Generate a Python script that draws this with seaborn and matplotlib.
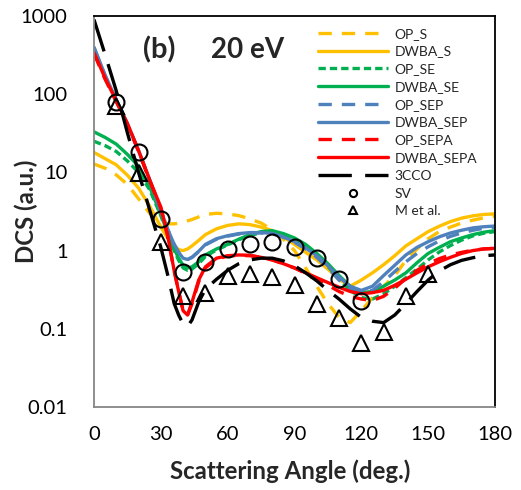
import numpy as np
import pandas as pd
import matplotlib
matplotlib.use("Agg")
import matplotlib.pyplot as plt
import seaborn as sns
from matplotlib.ticker import MultipleLocator, FuncFormatter, LogLocator, NullFormatter

# angle grid (deg) shared by all theory curves
angle = [0, 5, 10, 15, 20, 25, 30, 33, 36, 38, 40, 42, 44, 47, 50, 55, 60, 65, 70, 75, 80,
         85, 90, 95, 100, 105, 110, 115, 120, 125, 130, 135, 140, 145, 150, 155, 160, 165,
         170, 175, 180]

op_s = [12.8, 11.3, 9.3, 7.0, 4.6, 3.0, 2.35, 2.2, 2.2, 2.23, 2.3, 2.4, 2.5, 2.7, 2.9, 3.0,
        2.95, 2.8, 2.55, 2.25, 1.85, 1.4, 1.0, 0.6, 0.35, 0.21, 0.14, 0.12, 0.17, 0.25, 0.35,
        0.48, 0.75, 1.05, 1.42, 1.75, 2.0, 2.25, 2.45, 2.62, 2.75]
dwba_s = [18, 15, 12.5, 9.2, 6.3, 3.7, 2.0, 1.45, 1.15, 1.03, 1.0, 1.05, 1.15, 1.35, 1.6, 1.9,
          2.1, 2.2, 2.15, 2.0, 1.8, 1.5, 1.2, 0.95, 0.76, 0.58, 0.43, 0.35, 0.42, 0.52, 0.66,
          0.86, 1.15, 1.42, 1.75, 2.05, 2.35, 2.6, 2.78, 2.9, 2.95]
op_se = [25, 22, 18.5, 14, 10, 6, 2.8, 1.65, 1.0, 0.75, 0.6, 0.56, 0.58, 0.68, 0.84, 1.02,
         1.18, 1.38, 1.55, 1.7, 1.75, 1.62, 1.42, 1.16, 0.88, 0.63, 0.43, 0.31, 0.25, 0.24,
         0.28, 0.35, 0.45, 0.58, 0.76, 0.96, 1.16, 1.36, 1.54, 1.67, 1.75]
dwba_se = [33, 28, 23, 17, 12, 6.5, 2.9, 1.7, 1.05, 0.8, 0.65, 0.6, 0.62, 0.72, 0.88, 1.05,
           1.2, 1.4, 1.6, 1.75, 1.8, 1.65, 1.45, 1.2, 0.92, 0.68, 0.48, 0.35, 0.29, 0.3, 0.35,
           0.42, 0.52, 0.7, 0.92, 1.1, 1.3, 1.45, 1.6, 1.72, 1.8]
op_sep = [390, 172, 84, 42, 19, 8, 3.2, 1.9, 1.2, 0.95, 0.8, 0.77, 0.82, 0.97, 1.18, 1.4,
          1.53, 1.63, 1.68, 1.68, 1.64, 1.48, 1.28, 1.05, 0.82, 0.6, 0.42, 0.32, 0.29, 0.31,
          0.4, 0.54, 0.72, 0.92, 1.12, 1.33, 1.52, 1.68, 1.82, 1.93, 2.0]
dwba_sep = [400, 175, 85, 42, 19, 8, 3.2, 1.9, 1.2, 0.95, 0.8, 0.77, 0.82, 0.98, 1.2, 1.42,
            1.55, 1.65, 1.7, 1.7, 1.66, 1.5, 1.3, 1.08, 0.86, 0.64, 0.46, 0.35, 0.31, 0.35,
            0.48, 0.65, 0.88, 1.1, 1.3, 1.5, 1.68, 1.82, 1.95, 2.02, 2.06]
op_sepa = [330, 155, 80, 41, 18.5, 7.8, 3.5, 1.55, 0.55, 0.3, 0.17, 0.15, 0.21, 0.4, 0.6,
           0.78, 0.85, 0.87, 0.86, 0.82, 0.76, 0.68, 0.6, 0.51, 0.43, 0.36, 0.3, 0.26, 0.24,
           0.23, 0.26, 0.33, 0.44, 0.56, 0.68, 0.79, 0.88, 0.95, 1.01, 1.05, 1.07]
dwba_sepa = [340, 160, 82, 42, 19, 8, 3.6, 1.6, 0.55, 0.3, 0.17, 0.15, 0.22, 0.42, 0.62, 0.8,
             0.86, 0.88, 0.87, 0.82, 0.76, 0.68, 0.6, 0.52, 0.45, 0.39, 0.34, 0.3, 0.28, 0.29,
             0.31, 0.36, 0.43, 0.52, 0.62, 0.72, 0.82, 0.92, 1.0, 1.05, 1.07]
cco3 = [900, 320, 110, 32, 10, 3.3, 1.1, 0.5, 0.21, 0.15, 0.115, 0.107, 0.13, 0.22, 0.32,
        0.43, 0.56, 0.68, 0.76, 0.8, 0.8, 0.74, 0.64, 0.52, 0.41, 0.31, 0.24, 0.18, 0.14,
        0.125, 0.12, 0.15, 0.21, 0.3, 0.42, 0.55, 0.66, 0.75, 0.81, 0.86, 0.88]

# experiments
sv_angle = [10, 20, 30, 40, 50, 60, 70, 80, 90, 100, 110, 120]
sv_dcs = [80, 18, 2.5, 0.54, 0.72, 1.05, 1.21, 1.3, 1.1, 0.8, 0.43, 0.227]
m_angle = [10, 20, 30, 40, 50, 60, 70, 80, 90, 100, 110, 120, 130, 140, 150]
m_dcs = [70, 9.7, 1.3, 0.26, 0.29, 0.47, 0.5, 0.46, 0.36, 0.21, 0.137, 0.066, 0.092, 0.26, 0.5]

yellow = "#FFC000"
green = "#00B050"
blue = "#4F81BD"
red = "#FF0000"

series = [
    ("OP_S", op_s, yellow, (4, 3)),
    ("DWBA_S", dwba_s, yellow, None),
    ("OP_SE", op_se, green, (2.2, 1.2)),
    ("DWBA_SE", dwba_se, green, None),
    ("OP_SEP", op_sep, blue, (4, 3)),
    ("DWBA_SEP", dwba_sep, blue, None),
    ("OP_SEPA", op_sepa, red, (4, 3)),
    ("DWBA_SEPA", dwba_sepa, red, None),
    ("3CCO", cco3, "black", (10, 4)),
]

sns.set_style("white")
plt.rcParams["font.family"] = ["Lato", "DejaVu Sans"]

fig = plt.figure(figsize=(5.21, 4.90), dpi=100)
ax = fig.add_axes([94 / 521, 1 - 407 / 490, 401 / 521, 391 / 490])

for name, vals, col, dash in series:
    ls = "-" if dash is None else (0, dash)
    sns.lineplot(x=angle, y=vals, ax=ax, color=col, linewidth=2.4, linestyle=ls,
                 label=name, estimator=None, sort=False)

sns.lineplot(x=sv_angle, y=sv_dcs, ax=ax, linestyle="", marker="o", ms=11.5, mfc="none",
             mec="black", mew=1.5, label="SV", estimator=None, sort=False)
sns.lineplot(x=m_angle, y=m_dcs, ax=ax, linestyle="", marker="^", ms=12, mfc="none",
             mec="black", mew=1.5, label="M et al.", estimator=None, sort=False)

ax.set_yscale("log")
ax.set_ylim(0.01, 1000)
ax.set_xlim(0, 180)
ax.xaxis.set_major_locator(MultipleLocator(30))
ax.xaxis.set_minor_locator(MultipleLocator(10))
ax.yaxis.set_major_locator(LogLocator(base=10))
ax.yaxis.set_minor_locator(LogLocator(base=10, subs=np.arange(2, 10)))
ax.yaxis.set_minor_formatter(NullFormatter())
ax.yaxis.set_major_formatter(FuncFormatter(lambda v, p: f"{v:g}"))

gray = "#868686"
for s in ["left", "bottom"]:
    ax.spines[s].set_color(gray)
    ax.spines[s].set_linewidth(1.3)
for s in ["top", "right"]:
    ax.spines[s].set_color("black")
    ax.spines[s].set_linewidth(1.3)
ax.tick_params(axis="both", which="both", direction="out", color=gray, width=1.1,
               labelsize=14.5, labelcolor="black")
ax.tick_params(axis="x", which="both", length=5, pad=9)
ax.tick_params(axis="y", which="major", length=6, pad=13)
ax.tick_params(axis="y", which="minor", length=3.5)

ax.set_xlabel("Scattering Angle (deg.)", fontsize=17.3, fontweight="bold")
ax.set_ylabel("DCS (a.u.)", fontsize=17.3, fontweight="bold")
ax.xaxis.set_label_coords(0.49, -0.135)
ax.yaxis.set_label_coords(-0.14, 0.5)

ax.text(0.122, 0.913, "(b)", transform=ax.transAxes, fontsize=21, fontweight="bold",
        va="center", ha="left")
ax.text(0.2925, 0.913, "20 eV", transform=ax.transAxes, fontsize=20, fontweight="bold",
        va="center", ha="left")

leg = ax.legend(loc="upper right", bbox_to_anchor=(0.98, 0.995), frameon=False,
                fontsize=10, handlelength=5.0, handletextpad=0.5, labelspacing=0.415,
                markerscale=0.45, borderaxespad=0.3)

fig.savefig("out.png", dpi=100)
